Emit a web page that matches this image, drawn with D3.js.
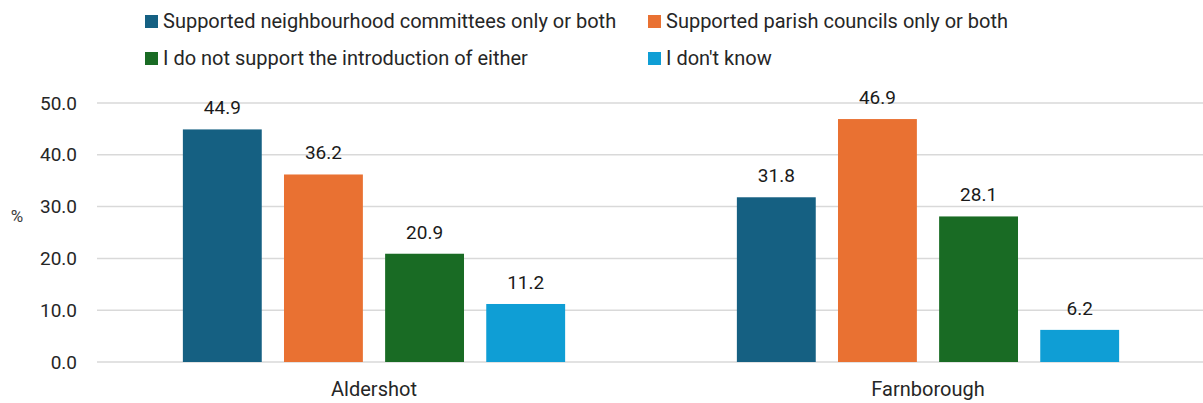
<!DOCTYPE html>
<html>
<head>
<meta charset="utf-8">
<script src="https://cdn.jsdelivr.net/npm/d3@7"></script>
<style>
  body { margin: 0; background: #fff; }
  svg text { font-family: Roboto, "Liberation Sans", sans-serif; }
</style>
</head>
<body>
<svg width="1203" height="403"></svg>
<script>
const towns = ["Aldershot", "Farnborough"];
const seriesNames = [
  "Supported neighbourhood committees only or both",
  "Supported parish councils only or both",
  "I do not support the introduction of either",
  "I don't know"
];
const neighbourhood = [44.9, 31.8];
const parish = [36.2, 46.9];
const neither = [20.9, 28.1];
const dontKnow = [11.2, 6.2];
const yTicks = [0, 10, 20, 30, 40, 50];
const colors = ["#156082", "#e97132", "#196b24", "#0f9ed5"];

const seriesValues = [neighbourhood, parish, neither, dontKnow];

const svg = d3.select("svg"),
    width = +svg.attr("width"),
    height = +svg.attr("height");

const margin = {left: 97, right: -2, top: 103, bottom: 41};

const x0 = d3.scaleBand()
    .domain(towns)
    .range([margin.left, width - margin.right])
    .paddingInner(0.31)
    .paddingOuter(0.155);

const x1 = d3.scaleBand()
    .domain(d3.range(seriesNames.length))
    .range([0, x0.bandwidth()])
    .paddingInner(0.22);

const y = d3.scaleLinear()
    .domain([0, 50])
    .range([height - margin.bottom, margin.top]);

// gridlines
svg.append("g")
    .selectAll("line")
    .data(yTicks)
    .enter().append("line")
    .attr("x1", margin.left)
    .attr("x2", width)
    .attr("y1", d => y(d))
    .attr("y2", d => y(d))
    .attr("stroke", "#d9d9d9")
    .attr("stroke-width", 1.5);

// y axis labels
svg.append("g")
    .selectAll("text")
    .data(yTicks)
    .enter().append("text")
    .attr("x", 77)
    .attr("y", d => y(d))
    .attr("dy", "0.35em")
    .attr("text-anchor", "end")
    .attr("font-size", 19)
    .attr("fill", "#262626")
    .text(d => d3.format(".1f")(d));

svg.append("text")
    .attr("x", 17)
    .attr("y", 222)
    .attr("text-anchor", "middle")
    .attr("font-size", 17)
    .attr("fill", "#404040")
    .text("%");

// bars
const groups = svg.append("g")
    .selectAll("g")
    .data(towns)
    .enter().append("g")
    .attr("transform", d => `translate(${x0(d)},0)`);

groups.selectAll("rect")
    .data((t, ti) => seriesValues.map((vals, si) => ({si: si, v: vals[ti]})))
    .enter().append("rect")
    .attr("x", d => x1(d.si))
    .attr("width", x1.bandwidth())
    .attr("y", d => y(d.v))
    .attr("height", d => y(0) - y(d.v))
    .attr("fill", d => colors[d.si]);

groups.selectAll("text.val")
    .data((t, ti) => seriesValues.map((vals, si) => ({si: si, v: vals[ti]})))
    .enter().append("text")
    .attr("class", "val")
    .attr("x", d => x1(d.si) + x1.bandwidth() / 2)
    .attr("y", d => y(d.v) - 15)
    .attr("text-anchor", "middle")
    .attr("font-size", 19)
    .attr("fill", "#1a1a1a")
    .text(d => d3.format(".1f")(d.v));

// x labels
svg.append("g")
    .selectAll("text")
    .data(towns)
    .enter().append("text")
    .attr("x", d => x0(d) + x0.bandwidth() / 2)
    .attr("y", 396)
    .attr("text-anchor", "middle")
    .attr("font-size", 20)
    .attr("fill", "#262626")
    .text(d => d);

// legend
const legendPos = [[145, 21], [648, 21], [145, 58], [648, 58]];
const legend = svg.append("g")
    .selectAll("g")
    .data(seriesNames)
    .enter().append("g")
    .attr("transform", (d, i) => `translate(${legendPos[i][0]},${legendPos[i][1]})`);

legend.append("rect")
    .attr("x", 0)
    .attr("y", -6)
    .attr("width", 13)
    .attr("height", 13)
    .attr("fill", (d, i) => colors[i]);

legend.append("text")
    .attr("x", 18)
    .attr("dy", "0.35em")
    .attr("font-size", 20)
    .attr("fill", "#262626")
    .text(d => d);
</script>
</body>
</html>
